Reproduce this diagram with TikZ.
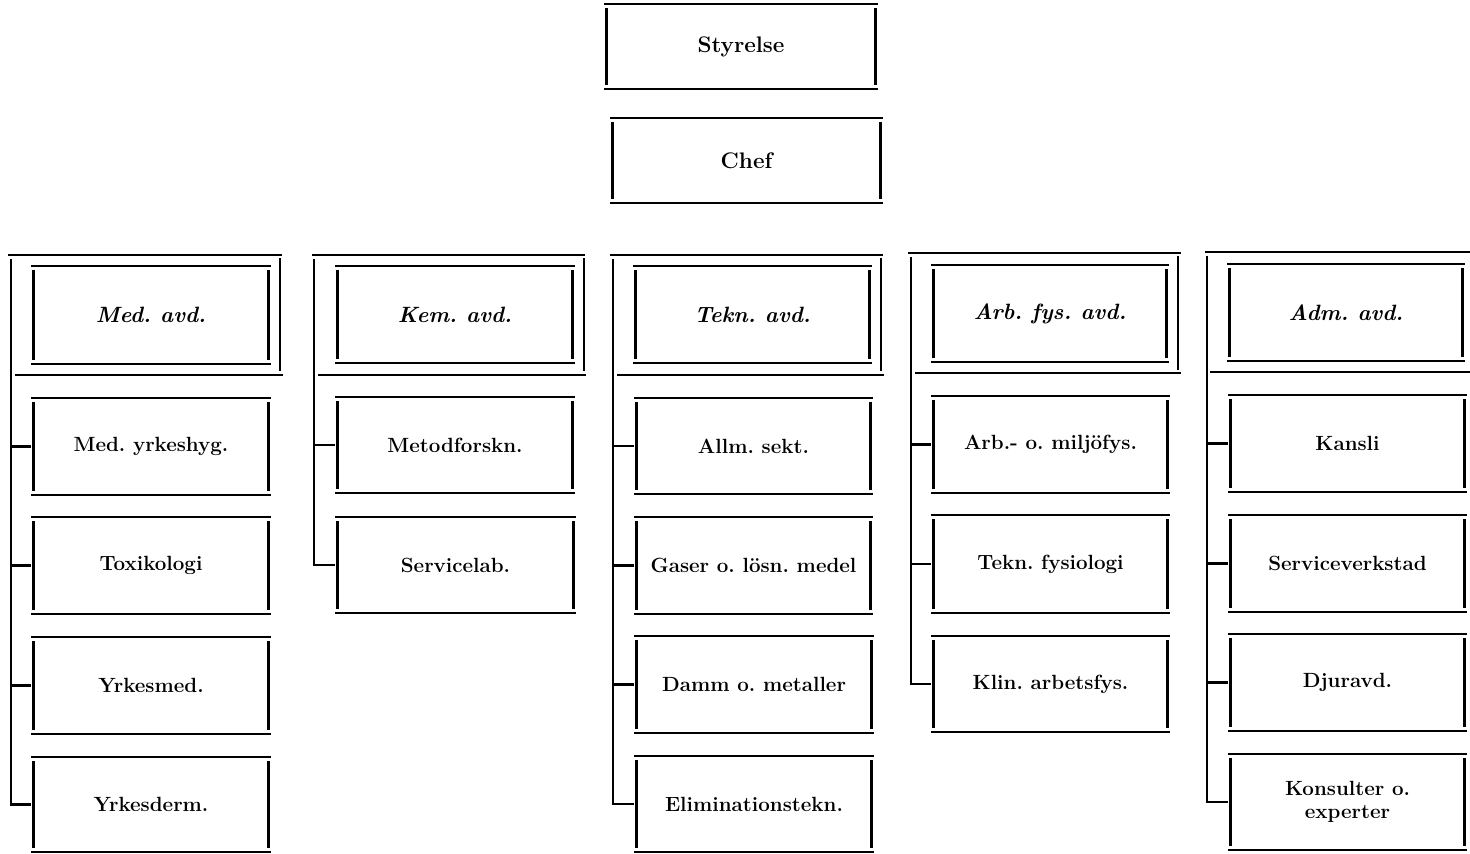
\documentclass[tikz,border=0pt]{standalone}
\frenchspacing
\begin{document}
\begin{tikzpicture}[x=0.02cm,y=-0.02cm,
  ln/.style={line width=1.3pt, black},
  lbl/.style={inner sep=0pt, align=center, font=\fontsize{11.7}{13}\selectfont\bfseries}]
\useasboundingbox (0,0) rectangle (1470,854);
\newcommand\obox[6]{%
  \node[lbl, minimum width={(#4-#2)*0.02cm}, minimum height={(#5-#3)*0.02cm}] (#1) at ({(#2+#4)/2},{(#3+#5)/2}) {#6};
  \draw[ln] (#2,#3) -- (#4,#3) (#2,#5) -- (#4,#5)
            (#2+2.5,#3+4) -- (#2+2.5,#5-4) (#4-2.5,#3+4) -- (#4-2.5,#5-4);
}
\newcommand\hdtext[1]{{\fontsize{12.6}{15}\selectfont\bfseries\itshape #1}}
\newcommand\toptext[1]{{\fontsize{12.8}{15}\selectfont\bfseries #1}}
% top
\obox{sty}{604}{4}{878}{89}{\toptext{Styrelse}}
\obox{chef}{610}{118}{883}{203}{\toptext{Chef}}
% ---------- column 1
\draw[ln] (8,255) -- (282,255) (280,258) -- (280,371) (15,375) -- (283,375);
\coordinate (t1) at (11,259);
\obox{h1}{31}{266}{271}{364}{\hdtext{Med. avd.}}
\obox{a1}{31}{398}{271}{495}{Med. yrkeshyg.}
\obox{a2}{31}{517}{271}{614}{Toxikologi}
\obox{a3}{31}{637}{271}{734}{Yrkesmed.}
\obox{a4}{31}{757}{271}{852}{Yrkesderm.}
\draw[ln] (t1) -- (a4.west -| t1) -- (a4.west);
\foreach \n in {a1,a2,a3} \draw[ln] (\n.west -| t1) -- (\n.west);
% ---------- column 2
\draw[ln] (312,255) -- (585,255) (584,258) -- (584,371) (318,375) -- (586,375);
\coordinate (t2) at (314,259);
\obox{h2}{335}{266}{575}{363}{\hdtext{Kem. avd.}}
\obox{b1}{335}{397}{575}{493}{Metodforskn.}
\obox{b2}{335}{517}{576}{613}{Servicelab.}
\draw[ln] (t2) -- (b2.west -| t2) -- (b2.west);
\draw[ln] (b1.west -| t2) -- (b1.west);
% ---------- column 3
\draw[ln] (610,255) -- (883,255) (881,258) -- (881,371) (617,375) -- (884,375);
\coordinate (t3) at (613,259);
\obox{h3}{633}{266}{872}{363}{\hdtext{Tekn. avd.}}
\obox{c1}{634}{398}{873}{494}{Allm. sekt.}
\obox{c2}{634}{517}{873}{614}{Gaser o. lösn. medel}
\obox{c3}{634}{636}{874}{733}{Damm o. metaller}
\obox{c4}{634}{756}{874}{852}{Eliminationstekn.}
\draw[ln] (t3) -- (c4.west -| t3) -- (c4.west);
\foreach \n in {c1,c2,c3} \draw[ln] (\n.west -| t3) -- (\n.west);
% ---------- column 4
\draw[ln] (908,253) -- (1181,253) (1178,256) -- (1178,370) (915,373) -- (1181,373);
\coordinate (t4) at (911,257);
\obox{h4}{931}{265}{1169}{362}{\hdtext{Arb. fys. avd.}}
\obox{d1}{931}{396}{1170}{493}{Arb.- o. miljöfys.}
\obox{d2}{931}{515}{1170}{613}{Tekn. fysiologi}
\obox{d3}{931}{636}{1170}{732}{Klin. arbetsfys.}
\draw[ln] (t4) -- (d3.west -| t4) -- (d3.west);
\foreach \n in {d1,d2} \draw[ln] (\n.west -| t4) -- (\n.west);
% ---------- column 5
\draw[ln] (1205,252) -- (1470,252) (1210,372) -- (1470,372);
\coordinate (t5) at (1207,256);
\obox{h5}{1227}{264}{1465}{361}{\hdtext{Adm. avd.}}
\obox{e1}{1228}{395}{1467}{492}{Kansli}
\obox{e2}{1228}{515}{1467}{612}{Serviceverkstad}
\obox{e3}{1228}{634}{1467}{731}{Djuravd.}
\obox{e4}{1228}{754}{1467}{850}{Konsulter o.\\experter}
\draw[ln] (t5) -- (e4.west -| t5) -- (e4.west);
\foreach \n in {e1,e2,e3} \draw[ln] (\n.west -| t5) -- (\n.west);
\end{tikzpicture}
\end{document}
